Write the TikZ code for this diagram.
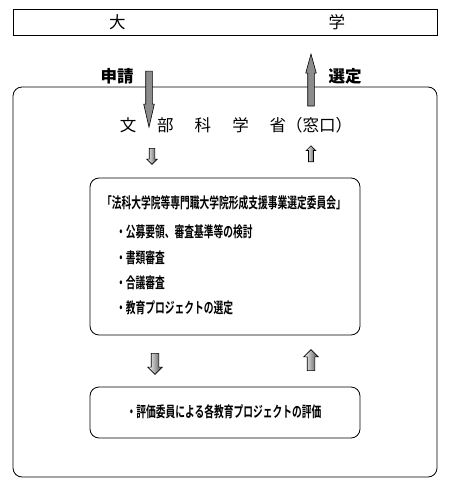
\documentclass[tikz,border=0pt]{standalone}
\usepackage{fontspec}
\setmainfont{Noto Sans CJK JP}
\newfontfamily\condjp{Noto Sans CJK JP Bold}[FakeStretch=0.65]
\usetikzlibrary{shapes.arrows}

\begin{document}
\begin{tikzpicture}
  [x=1bp,y=-1bp,every node/.style={inner sep=0pt,font=\fontsize{16.5bp}{18bp}\selectfont},
   panel/.style={draw,line width=.8bp,rounded corners=9bp},
   bigarrow/.style={single arrow,draw,fill=black!45,line width=.6bp,inner ysep=3bp,single arrow head extend=2bp},
   smallarrow/.style={single arrow,draw,line width=.6bp,left color=white,right color=black!70},
   item/.style={anchor=west,font=\condjp\fontsize{15bp}{16bp}\selectfont}]
  \useasboundingbox (0,0) rectangle (450,490);
  \node[draw,line width=.8bp,minimum width=424bp,minimum height=26bp] (univ) at (225,22) {\hspace{4bp}大\hspace{203bp}学};
  \node[panel,minimum width=424bp,minimum height=390bp] (ministry) at (225,282) {};
  \node (window) at (236,125) {文\hspace{21bp}部\hspace{21bp}科\hspace{21bp}学\hspace{21bp}省（窓口）};
  % Application and selection
  \node[bigarrow,rotate=-90,minimum height=56bp,single arrow tip angle=26] (apply) at (149,92) {};
  \node[bigarrow,rotate=90,minimum height=52bp,single arrow tip angle=31] (select) at (311,86) {};
  \node[font=\bfseries\fontsize{16.5bp}{18bp}\selectfont] (applylbl) at (117,76) {申請};
  \node[font=\bfseries\fontsize{16.5bp}{18bp}\selectfont] (selectlbl) at (345,76) {選定};
  \node[smallarrow,rotate=-90,inner ysep=2.5bp,single arrow head extend=2.5bp,minimum height=16bp] (down1) at (152,155) {};
  \node[smallarrow,rotate=90,inner ysep=2.2bp,single arrow head extend=2.3bp,minimum height=16bp] (up1) at (311,155) {};
  % Committee
  \node[panel,minimum width=270bp,minimum height=157bp] (committee) at (225,256.5) {};
  \node[item,anchor=center] (cttitle) at (224,203) {「法科大学院等専門職大学院形成支援事業選定委員会」};
  \foreach \y/\txt in {232/公募要領、審査基準等の検討,258/書類審査,283/合議審査,308/教育プロジェクトの選定}
    \node[item] (task\y) at (116,\y) {・\txt};
  \node[smallarrow,rotate=-90,inner ysep=3.5bp,single arrow head extend=3.5bp,minimum height=21bp] (down2) at (155,362) {};
  \node[smallarrow,rotate=90,inner ysep=3.5bp,single arrow head extend=3.5bp,minimum height=21bp] (up2) at (311,362) {};
  % Evaluation
  \node[panel,minimum width=270bp,minimum height=51bp] (review) at (225,412.5) {};
  \node[item,anchor=center] (reviewtxt) at (224,412) {・評価委員による各教育プロジェクトの評価};
\end{tikzpicture}
\end{document}
